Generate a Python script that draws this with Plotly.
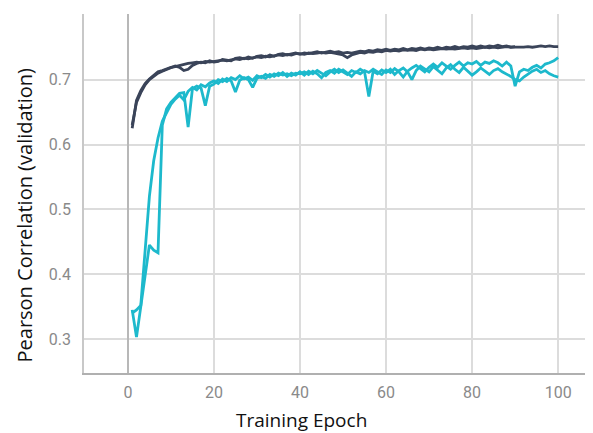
import plotly.graph_objects as go

epochs_100 = list(range(1, 101))
epochs_90 = list(range(1, 91))

dark_a = [0.625, 0.668, 0.683, 0.694, 0.701, 0.707, 0.712, 0.714, 0.717, 0.719,
          0.720, 0.722, 0.723, 0.725, 0.726, 0.727, 0.726, 0.728, 0.727, 0.728,
          0.729, 0.730, 0.729, 0.731, 0.732, 0.731, 0.733, 0.732, 0.734, 0.735,
          0.734, 0.736, 0.735, 0.737, 0.738, 0.737, 0.739, 0.738, 0.740, 0.740,
          0.739, 0.741, 0.740, 0.741, 0.742, 0.741, 0.742, 0.741, 0.740, 0.738,
          0.734, 0.738, 0.740, 0.742, 0.741, 0.743, 0.742, 0.744, 0.743, 0.745,
          0.744, 0.745, 0.744, 0.746, 0.745, 0.746, 0.745, 0.747, 0.746, 0.747,
          0.746, 0.747, 0.748, 0.747, 0.748, 0.747, 0.748, 0.749, 0.748, 0.749,
          0.748, 0.749, 0.750, 0.749, 0.750, 0.749, 0.750, 0.751, 0.750, 0.750,
          0.749, 0.750, 0.751, 0.750, 0.751, 0.752, 0.751, 0.752, 0.751, 0.751]

dark_b = [0.630, 0.665, 0.680, 0.692, 0.700, 0.705, 0.710, 0.713, 0.716, 0.718,
          0.721, 0.719, 0.714, 0.716, 0.722, 0.725, 0.727, 0.726, 0.729, 0.727,
          0.728, 0.731, 0.730, 0.729, 0.733, 0.734, 0.732, 0.735, 0.733, 0.736,
          0.737, 0.735, 0.738, 0.736, 0.739, 0.740, 0.738, 0.740, 0.741, 0.739,
          0.741, 0.740, 0.742, 0.743, 0.741, 0.743, 0.744, 0.742, 0.743, 0.741,
          0.742, 0.741, 0.743, 0.744, 0.743, 0.745, 0.744, 0.746, 0.745, 0.747,
          0.745, 0.747, 0.746, 0.748, 0.746, 0.748, 0.747, 0.749, 0.747, 0.749,
          0.748, 0.750, 0.748, 0.750, 0.749, 0.751, 0.749, 0.751, 0.750, 0.752,
          0.750, 0.752, 0.750, 0.752, 0.751, 0.753, 0.751, 0.752, 0.750, 0.751]

cyan_a = [0.345, 0.303, 0.350, 0.395, 0.445, 0.437, 0.433, 0.630, 0.655, 0.665,
          0.672, 0.679, 0.680, 0.627, 0.686, 0.690, 0.687, 0.660, 0.690, 0.693,
          0.700, 0.697, 0.702, 0.698, 0.681, 0.699, 0.703, 0.700, 0.688, 0.702,
          0.705, 0.702, 0.708, 0.705, 0.710, 0.707, 0.709, 0.706, 0.710, 0.709,
          0.712, 0.708, 0.713, 0.709, 0.703, 0.711, 0.714, 0.710, 0.716, 0.712,
          0.708, 0.714, 0.711, 0.716, 0.712, 0.674, 0.713, 0.709, 0.715, 0.711,
          0.716, 0.708, 0.714, 0.718, 0.712, 0.700, 0.714, 0.721, 0.716, 0.712,
          0.720, 0.714, 0.709, 0.718, 0.723, 0.716, 0.711, 0.719, 0.713, 0.707,
          0.712, 0.718, 0.713, 0.708, 0.714, 0.717, 0.712, 0.709, 0.705, 0.700,
          0.698, 0.704, 0.709, 0.713, 0.716, 0.711, 0.714, 0.709, 0.706, 0.704]

cyan_b = [0.340, 0.345, 0.352, 0.430, 0.520, 0.575, 0.610, 0.636, 0.650, 0.662,
          0.670, 0.676, 0.669, 0.682, 0.688, 0.684, 0.692, 0.689, 0.695, 0.698,
          0.694, 0.701, 0.697, 0.703, 0.700, 0.706, 0.701, 0.704, 0.699, 0.706,
          0.703, 0.708, 0.704, 0.709, 0.706, 0.711, 0.705, 0.710, 0.707, 0.712,
          0.707, 0.713, 0.709, 0.714, 0.710, 0.706, 0.712, 0.716, 0.711, 0.715,
          0.710, 0.705, 0.712, 0.709, 0.714, 0.711, 0.716, 0.712, 0.708, 0.715,
          0.711, 0.717, 0.712, 0.704, 0.713, 0.718, 0.722, 0.717, 0.712, 0.719,
          0.724, 0.719, 0.726, 0.721, 0.716, 0.722, 0.727, 0.721, 0.726, 0.724,
          0.728, 0.722, 0.727, 0.725, 0.729, 0.726, 0.721, 0.727, 0.721, 0.690,
          0.712, 0.716, 0.714, 0.719, 0.722, 0.718, 0.724, 0.726, 0.729, 0.734]

x_ticks = [0, 20, 40, 60, 80, 100]
y_ticks = [0.3, 0.4, 0.5, 0.6, 0.7, 0.8]
y_tick_text = ["0.3", "0.4", "0.5", "0.6", "0.7", ""]

DARK = "#3a4459"
CYAN = "#1db9cc"

fig = go.Figure()
for xs, ys, col in [(epochs_100, cyan_a, CYAN), (epochs_100, cyan_b, CYAN),
                    (epochs_90, dark_b, DARK), (epochs_100, dark_a, DARK)]:
    fig.add_trace(go.Scatter(x=xs, y=ys, mode="lines",
                             line=dict(color=col, width=2.8),
                             showlegend=False, hoverinfo="skip"))

# page body has an 8px default margin; figure is sized to compensate
fig.update_layout(
    width=585, height=425,
    margin=dict(l=76, r=0, t=6, b=60),
    paper_bgcolor="white", plot_bgcolor="white",
    font=dict(family="Open Sans, sans-serif"),
    xaxis=dict(range=[-10.2, 108.1], tickvals=x_ticks,
               showgrid=True, gridcolor="#dcdcdc", gridwidth=2,
               zeroline=True, zerolinecolor="#b8b8b8", zerolinewidth=2,
               showline=True, linecolor="#b0b0b0", linewidth=1.5,
               ticks="", ticklabelstandoff=4,
               tickfont=dict(family="Roboto, sans-serif", size=16, color="#8a8a8a")),
    yaxis=dict(range=[0.2477, 0.8012], tickvals=y_ticks, ticktext=y_tick_text,
               showgrid=True, gridcolor="#dcdcdc", gridwidth=2,
               zeroline=False,
               showline=True, linecolor="#c8c8c8", linewidth=1.5,
               ticks="", ticklabelstandoff=8,
               tickfont=dict(family="Roboto, sans-serif", size=16, color="#8a8a8a")),
    annotations=[
        dict(text="Pearson Correlation (validation)", xref="paper", yref="paper",
             x=-0.117, y=0.44, xanchor="center", yanchor="middle", textangle=-90,
             showarrow=False, font=dict(family="Open Sans, sans-serif", size=20, color="#111")),
        dict(text="Training Epoch", xref="paper", yref="paper",
             x=0.428, y=-0.131, xanchor="center", yanchor="middle",
             showarrow=False, font=dict(family="Open Sans, sans-serif", size=19, color="#111")),
    ],
)

fig.write_html("out.html")
